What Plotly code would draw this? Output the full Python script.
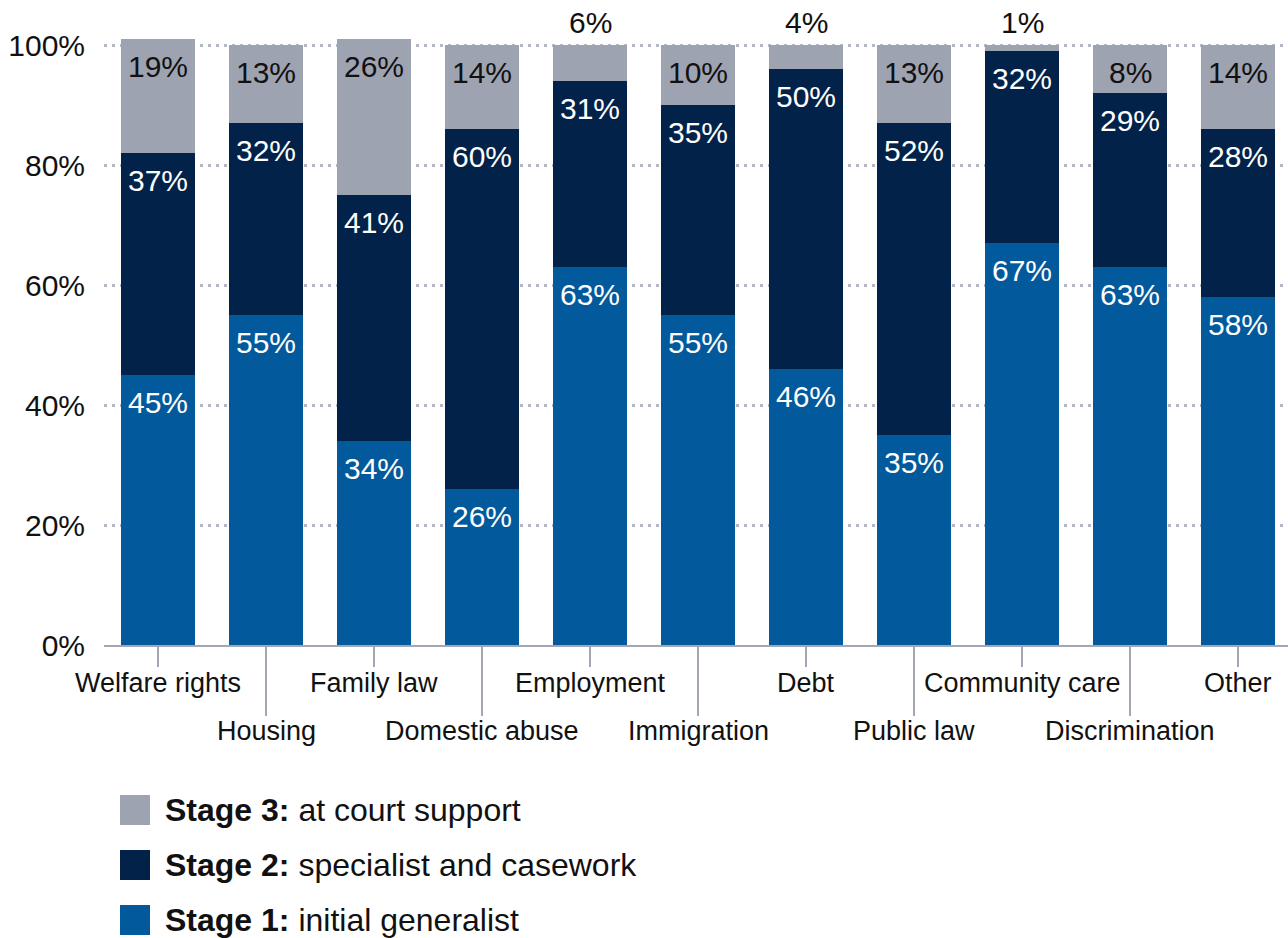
import plotly.graph_objects as go

categories = ["Welfare rights", "Housing", "Family law", "Domestic abuse", "Employment",
              "Immigration", "Debt", "Public law", "Community care", "Discrimination", "Other"]
stage1 = [45, 55, 34, 26, 63, 55, 46, 35, 67, 63, 58]
stage2 = [37, 32, 41, 60, 31, 35, 50, 52, 32, 29, 28]
stage3 = [19, 13, 26, 14, 6, 10, 4, 13, 1, 8, 14]

y_ticks = [0, 20, 40, 60, 80, 100]
y_tick_labels = ["0%", "20%", "40%", "60%", "80%", "100%"]

legend_bold = ["Stage 3:", "Stage 2:", "Stage 1:"]
legend_rest = ["at court support", "specialist and casework", "initial generalist"]

C1 = "#02599b"
C2 = "#032249"
C3 = "#9ea3b1"
GRID = "#b5b9c5"
AXIS = "#a3a7b3"
FONT = "Liberation Sans, Arial, sans-serif"

W, H = 1288, 938
ML, MR, MT, MB = 104, 0, 0, 293
PW, PH = W - ML - MR, H - MT - MB


def py2paper(py):
    return (H - MB - py) / PH


def px2paper(px):
    return (px - ML) / PW


fig = go.Figure()
series = [(stage1, C1, "white", "Stage 1"), (stage2, C2, "white", "Stage 2"), (stage3, C3, "#111111", "Stage 3")]
for vals, col, tcol, name in series:
    fig.add_trace(go.Bar(x=categories, y=vals, name=name, marker=dict(color=col, line=dict(width=0)),
                         hoverinfo="skip"))

shapes = []
annotations = []

# segment value labels, anchored to the top of each stacked segment
base = [0] * len(categories)
for vals, col, tcol, name in series:
    for i, (cat, v) in enumerate(zip(categories, vals)):
        top = base[i] + v
        outside = name == "Stage 3" and v < 8
        annotations.append(dict(text=f"{v}%", xref="x", yref="y", x=cat, y=top,
                                yanchor="middle", xanchor="center",
                                yshift=23 if outside else -27, showarrow=False,
                                font=dict(size=30, color="#111111" if outside else tcol, family=FONT)))
        base[i] = top

for i, cat in enumerate(categories):
    low = i % 2 == 1
    y_end = 716 if low else 667
    shapes.append(dict(type="line", xref="x", yref="paper", x0=i, x1=i,
                       y0=py2paper(646), y1=py2paper(y_end), line=dict(color=AXIS, width=2)))
    annotations.append(dict(text=cat, xref="x", yref="paper", x=i,
                            y=py2paper(731 if low else 683), yanchor="middle", xanchor="center",
                            showarrow=False, font=dict(size=27, color="#111111", family=FONT)))

colors = [C3, C2, C1]
for k in range(3):
    cy = 810 + 55 * k
    shapes.append(dict(type="rect", xref="paper", yref="paper",
                       x0=px2paper(120), x1=px2paper(150), y0=py2paper(cy - 15), y1=py2paper(cy + 15),
                       fillcolor=colors[k], line=dict(width=0)))
    annotations.append(dict(text=f"<b>{legend_bold[k]}</b> {legend_rest[k]}", xref="paper", yref="paper",
                            x=px2paper(163), y=py2paper(cy), xanchor="left", yanchor="middle",
                            showarrow=False, font=dict(size=32, color="#111111", family=FONT)))

fig.update_layout(
    width=W, height=H,
    margin=dict(l=ML, r=MR, t=MT, b=MB),
    barmode="stack", bargap=0.306,
    plot_bgcolor="white", paper_bgcolor="white",
    showlegend=False,
    font=dict(family=FONT, color="#111111"),
    shapes=shapes, annotations=annotations,
    xaxis=dict(range=[-0.5, -0.5 + PW / 108], showticklabels=False, showgrid=False,
               showline=True, linecolor=AXIS, linewidth=2, ticks="", fixedrange=True),
    yaxis=dict(range=[0, PH / 6], tickvals=y_ticks, ticktext=y_tick_labels,
               showgrid=True, gridcolor=GRID, gridwidth=2.5, griddash="2.5px,5.5px",
               zeroline=False, showline=False, ticks="", ticklabelstandoff=18,
               tickfont=dict(size=30, color="#111111", family=FONT)),
)

fig.write_html("out.html")
